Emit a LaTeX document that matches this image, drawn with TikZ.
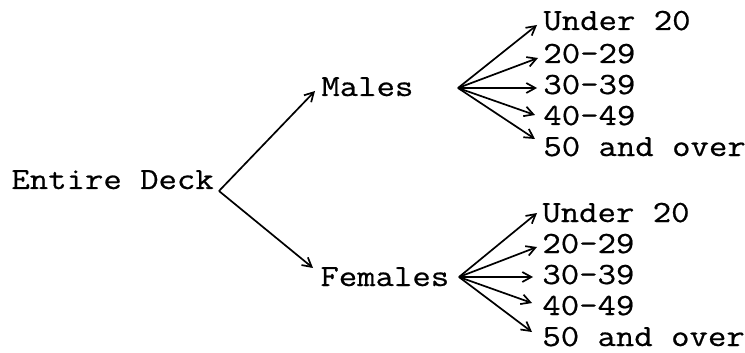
\documentclass[tikz,border=0pt]{standalone}
\usepackage{fontspec}
\setmonofont[FakeStretch=1.16,FakeBold=0.6]{Latin Modern Mono}
\usetikzlibrary{arrows.meta}
\begin{document}
\begin{tikzpicture}[x=0.5pt,y=-0.5pt,
  lbl/.style={anchor=base west,inner sep=0pt,font=\ttfamily\fontsize{15.4pt}{18pt}\selectfont},
  arr/.style={line width=0.85pt,-{Straight Barb[length=4.5pt,width=5pt]}}]
\useasboundingbox (0,0) rectangle (745,353);
% root and first split
\node[lbl] (deck) at (11,189) {Entire Deck};
\coordinate (fork) at (219,191);
\node[lbl] (m) at (321,96) {Males};
\node[lbl] (f) at (320,286) {Females};
\draw[arr] (fork) -- ([shift={(-6,-5)}]m.base west);
\draw[arr] (fork) -- ([shift={(-7,-18)}]f.base west);
% age groups under Males
\coordinate (mfork) at (458,88);
\node[lbl] (m1) at (543,30) {Under 20};
\node[lbl] (m2) at (543,63) {20-29};
\node[lbl] (m3) at (543,94) {30-39};
\node[lbl] (m4) at (543,125) {40-49};
\node[lbl] (m5) at (543,156) {50 and over};
\draw[arr] (mfork) -- ([shift={(-6,-5)}]m1.base west);
\draw[arr] (mfork) -- ([shift={(-5,-5)}]m2.base west);
\draw[arr] (mfork) -- ([shift={(-6,-6)}]m3.base west);
\draw[arr] (mfork) -- ([shift={(-8,-10)}]m4.base west);
\draw[arr] (mfork) -- ([shift={(-8,-17)}]m5.base west);
% age groups under Females
\coordinate (ffork) at (459,277);
\node[lbl] (f1) at (542,222) {Under 20};
\node[lbl] (f2) at (542,253) {20-29};
\node[lbl] (f3) at (542,284) {30-39};
\node[lbl] (f4) at (542,315) {40-49};
\node[lbl] (f5) at (542,346) {50 and over};
\draw[arr] (ffork) -- ([shift={(-5,-9)}]f1.base west);
\draw[arr] (ffork) -- ([shift={(-5,-6)}]f2.base west);
\draw[arr] (ffork) -- ([shift={(-9,-7)}]f3.base west);
\draw[arr] (ffork) -- ([shift={(-10,-12)}]f4.base west);
\draw[arr] (ffork) -- ([shift={(-10,-14)}]f5.base west);
\end{tikzpicture}
\end{document}
